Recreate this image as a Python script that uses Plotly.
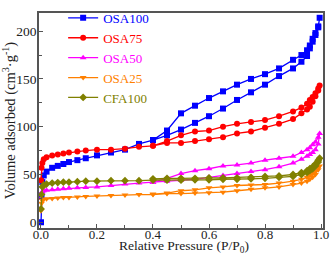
import plotly.graph_objects as go

# Relative pressure points
p_ads = [0.0002, 0.002, 0.005, 0.01, 0.02, 0.04, 0.06, 0.08, 0.10, 0.13, 0.16, 0.20, 0.25,
         0.30, 0.35, 0.40, 0.45, 0.50, 0.55, 0.60, 0.65, 0.70, 0.75, 0.80, 0.85, 0.90, 0.93,
         0.95, 0.96, 0.97, 0.98, 0.99, 0.995]
p_des = [0.99, 0.98, 0.97, 0.96, 0.95, 0.93, 0.90, 0.85, 0.80, 0.75, 0.70, 0.65, 0.60,
         0.55, 0.50, 0.45, 0.40]

osa100_ads = [0, 28, 42, 49, 53, 57, 59, 61, 63, 65, 67, 70, 73, 76, 82, 86, 91, 97, 104,
              111, 119, 128, 136, 144, 153, 161, 168, 174, 182, 189, 196, 204, 214]
osa100_des = [205, 198, 192, 185, 180, 175, 170, 161, 155, 150, 144, 137, 130, 122, 114, 96, 86]

osa75_ads = [44, 57, 62, 66, 68, 70, 71, 72, 73, 74, 75, 76, 76, 77, 79, 80, 83, 83, 85,
             87, 89, 93, 95, 99, 103, 108, 114, 118, 121, 126, 132, 138, 143]
osa75_des = [140, 135, 131, 128, 124, 120, 116, 111, 107, 105, 103, 100, 96, 95, 91, 85, 80]

osa50_ads = [25, 30, 32, 33, 33.5, 34, 34.5, 35, 35.5, 36, 36.5, 37, 38.5, 40, 41, 42, 43,
             44, 45, 47, 49, 51, 53, 55, 58, 62, 66, 69, 71, 73, 76, 82, 93]
osa50_des = [89, 84, 81, 78, 76, 73, 69, 67, 65, 62, 60, 59, 56, 54, 51, 46, 42]

osa25_ads = [12, 20, 23, 24, 24.5, 25, 25.5, 26, 26, 26.5, 27, 27.5, 28, 28.5, 29, 29, 30,
             30, 30.5, 31, 31.5, 33, 34.5, 36, 37, 39.5, 41, 43, 45, 47, 50, 55, 59]
osa25_des = [57, 53, 51, 49, 47, 45, 43, 41, 39.5, 39, 38.5, 37, 36, 34, 33, 30.5, 29.5]

cfa100_ads = [14, 29, 37, 39, 40, 41, 41.5, 42, 42, 42.5, 43, 43, 43.5, 43.5, 43.5, 44, 44,
              44, 44.5, 44.5, 45, 45, 45.5, 46, 47, 48, 50, 52, 54, 56, 59, 63, 67]
cfa100_des = [65, 61, 58, 56, 54, 52, 50, 48.5, 48, 47, 46.5, 46.5, 46.5, 46, 46, 46, 45.5]

series = [
    ("OSA100", osa100_ads, osa100_des, "#0000FF", "square"),
    ("OSA75", osa75_ads, osa75_des, "#FF0000", "circle"),
    ("OSA50", osa50_ads, osa50_des, "#FF00FF", "triangle-up"),
    ("OSA25", osa25_ads, osa25_des, "#FF8000", "triangle-down"),
    ("CFA100", cfa100_ads, cfa100_des, "#808000", "diamond"),
]

FONT = "Liberation Serif, Times New Roman, serif"

fig = go.Figure()
for name, ads, des, color, sym in series:
    fig.add_trace(go.Scatter(
        x=p_ads + p_des, y=ads + des, mode="lines+markers",
        name=f"<span style='color:{color}'>{name}</span>",
        line=dict(color=color, width=1.3),
        marker=dict(color=color, symbol=sym, size=6),
    ))

axis_common = dict(showgrid=False, zeroline=False, showline=True, linecolor="#555",
                   linewidth=1.5, mirror=True, ticks="inside", ticklen=4, tickwidth=1,
                   tickcolor="#555", automargin=False)

fig.update_layout(
    width=331, height=258,
    margin=dict(l=39, r=8, t=3, b=30),
    paper_bgcolor="white", plot_bgcolor="white",
    font=dict(family=FONT, size=14, color="#222"),
    showlegend=True,
    legend=dict(x=0.085, y=1.047, xanchor="left", yanchor="top", bgcolor="rgba(0,0,0,0)",
                font=dict(family=FONT, size=13), tracegroupgap=0,
                itemwidth=30),
    xaxis=dict(range=[-0.007, 1.007], tickvals=[0, 0.2, 0.4, 0.6, 0.8, 1.0],
               ticktext=["0.0", "0.2", "0.4", "0.6", "0.8", "1.0"],
               minor=dict(ticks="inside", dtick=0.1, ticklen=3, tickcolor="#555"),
               ticklabelstandoff=-6,
               tickfont=dict(family=FONT, size=13, color="#222"),
               **axis_common),
    yaxis=dict(range=[-6, 219], tickvals=[0, 50, 100, 150, 200],
               minor=dict(ticks="inside", dtick=25, ticklen=3, tickcolor="#555"),
               ticklabelstandoff=-2,
               tickfont=dict(family=FONT, size=13.5, color="#222"),
               title=dict(text="Volume adsorbed (cm<sup>3</sup>·g<sup>-1</sup>)", standoff=0,
                          font=dict(family=FONT, size=14.5)),
               **axis_common),
    annotations=[dict(text="Relative Pressure (P/P<sub>0</sub>)", xref="paper", yref="paper",
                      x=0.51, y=-0.132, xanchor="center", yanchor="bottom", showarrow=False,
                      borderpad=0,
                      font=dict(family=FONT, size=13.5, color="#222"))],
)

fig.write_html("out.html", config={"displayModeBar": False},
               post_script="document.body.style.margin='0';document.body.style.padding='0';")
